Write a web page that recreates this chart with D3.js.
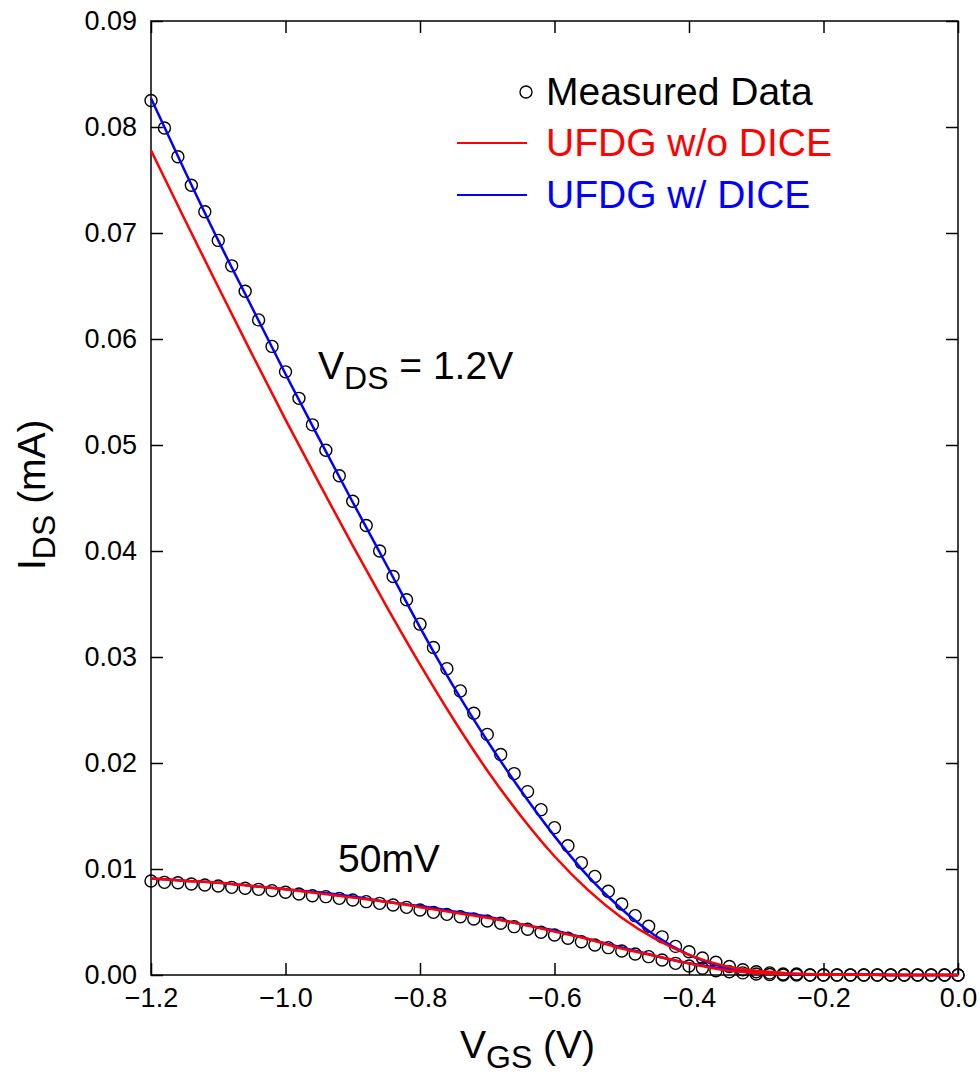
<!DOCTYPE html>
<html>
<head>
<meta charset="utf-8">
<script src="https://cdn.jsdelivr.net/npm/d3@7"></script>
<style>
  body { margin: 0; background: #fff; }
  svg text { font-family: "Liberation Sans", Arial, sans-serif; }
</style>
</head>
<body>
<div id="chart-container"></div>
<script>
// measured points, V_GS step 0.02 V
const vgsMeasured = [
  -1.20, -1.18, -1.16, -1.14, -1.12, -1.10, -1.08, -1.06, -1.04, -1.02,
  -1.00, -0.98, -0.96, -0.94, -0.92, -0.90, -0.88, -0.86, -0.84, -0.82,
  -0.80, -0.78, -0.76, -0.74, -0.72, -0.70, -0.68, -0.66, -0.64, -0.62,
  -0.60, -0.58, -0.56, -0.54, -0.52, -0.50, -0.48, -0.46, -0.44, -0.42,
  -0.40, -0.38, -0.36, -0.34, -0.32, -0.30, -0.28, -0.26, -0.24, -0.22,
  -0.20, -0.18, -0.16, -0.14, -0.12, -0.10, -0.08, -0.06, -0.04, -0.02, 0.00
]
const measured12V = [
  0.0825, 0.0799, 0.0772, 0.0745, 0.0720, 0.0693, 0.0669, 0.0645, 0.0618, 0.0593,
  0.0569, 0.0544, 0.0519, 0.0495, 0.0471, 0.0447, 0.0424, 0.0400, 0.0376, 0.0354,
  0.0331, 0.0309, 0.0289, 0.0268, 0.0247, 0.0227, 0.0208, 0.0190, 0.0173, 0.0156,
  0.0139, 0.0122, 0.0106, 0.0093, 0.0079, 0.0067, 0.0056, 0.0046, 0.0036, 0.0027,
  0.0022, 0.0016, 0.0012, 0.0008, 0.0005, 0.0003, 0.0002, 0.0001, 0.0001, 0.0000,
  0, 0, 0, 0, 0, 0, 0, 0, 0, 0, 0
]
const measured50mV = [
  0.00887, 0.00874, 0.00870, 0.00858, 0.00849, 0.00840, 0.00827, 0.00818, 0.00808, 0.00796,
  0.00780, 0.00764, 0.00748, 0.00739, 0.00723, 0.00708, 0.00692, 0.00676, 0.00660, 0.00638,
  0.00613, 0.00591, 0.00572, 0.00550, 0.00528, 0.00510, 0.00488, 0.00456, 0.00431, 0.00403,
  0.00377, 0.00346, 0.00314, 0.00283, 0.00258, 0.00226, 0.00198, 0.00173, 0.00142, 0.00110,
  0.00085, 0.00063, 0.00040, 0.00030, 0.00020, 0.00010, 0.00005, 0, 0, 0,
  0, 0, 0, 0, 0, 0, 0, 0, 0, 0, 0
]

// model curves, V_GS step 0.05 V
const vgsModel = [
  -1.20, -1.15, -1.10, -1.05, -1.00, -0.95, -0.90, -0.85, -0.80, -0.75,
  -0.70, -0.65, -0.60, -0.55, -0.50, -0.45, -0.40, -0.35, -0.30, -0.25,
  -0.20, -0.15, -0.10, -0.05, 0.00
]
const noDice12V = [
  0.0778, 0.0713, 0.0649, 0.0586, 0.0524, 0.0464, 0.0405, 0.0348, 0.0293, 0.0241,
  0.0193, 0.0150, 0.0112, 0.0080, 0.0054, 0.0034, 0.0019, 0.0009, 0.0004, 0.00015,
  0.00005, 0.00002, 0.00001, 0, 0
]
const withDice12V = [
  0.0827, 0.0759, 0.0693, 0.0630, 0.0567, 0.0506, 0.0446, 0.0387, 0.0328, 0.0272,
  0.0221, 0.0174, 0.0131, 0.0093, 0.0062, 0.0037, 0.0019, 0.0008, 0.0003, 0.0001,
  0.00005, 0.00002, 0.00001, 0, 0
]
const noDice50mV = [
  0.0091, 0.0089, 0.0087, 0.0084, 0.0081, 0.0077, 0.0073, 0.0069, 0.0064, 0.0059,
  0.0054, 0.0048, 0.0041, 0.0034, 0.0025, 0.0018, 0.0011, 0.0005, 0.0002, 0.0001,
  0.00005, 0.00002, 0.00001, 0, 0
]
const withDice50mV = [
  0.0091, 0.0089, 0.0087, 0.0084, 0.0081, 0.0078, 0.0074, 0.0069, 0.0065, 0.0060,
  0.0055, 0.0048, 0.0042, 0.0034, 0.0026, 0.0018, 0.0011, 0.0006, 0.0002, 0.0001,
  0.00005, 0.00002, 0.00001, 0, 0
]

const xTicks = [-1.2, -1.0, -0.8, -0.6, -0.4, -0.2, 0.0]
const yTicks = [0, 0.01, 0.02, 0.03, 0.04, 0.05, 0.06, 0.07, 0.08, 0.09]

const legendItems = [
  { label: 'Measured Data', color: '#000', kind: 'circle' },
  { label: 'UFDG w/o DICE', color: '#ff0000', kind: 'line' },
  { label: 'UFDG w/ DICE', color: '#0000ff', kind: 'line' },
]

// layout
const W = 980
const H = 1077
const plot = { left: 151, right: 958, top: 21, bottom: 975 }

const svg = d3
  .select('#chart-container')
  .append('svg')
  .attr('width', W)
  .attr('height', H)

const x = d3.scaleLinear().domain([-1.2, 0]).range([plot.left, plot.right])
const y = d3.scaleLinear().domain([0, 0.09]).range([plot.bottom, plot.top])

const tickLen = 12
const tickFont = 27

function styleAxis(g) {
  g.select('.domain').remove()
  g.selectAll('.tick line').attr('stroke', '#000').attr('stroke-width', 1.5)
  g.selectAll('.tick text')
    .attr('font-family', '"Liberation Sans", Arial, sans-serif')
    .attr('font-size', tickFont)
    .attr('fill', '#000')
}

// bottom axis with labels
svg
  .append('g')
  .attr('transform', `translate(0,${plot.bottom})`)
  .call(
    d3.axisBottom(x).tickValues(xTicks).tickSize(-tickLen).tickPadding(13)
      .tickFormat(d3.format('.1f'))
  )
  .call(styleAxis)

// left axis with labels
svg
  .append('g')
  .attr('transform', `translate(${plot.left},0)`)
  .call(
    d3.axisLeft(y).tickValues(yTicks).tickSize(-tickLen).tickPadding(14)
      .tickFormat(d3.format('.2f'))
  )
  .call(styleAxis)

// mirrored ticks on top and right
svg
  .append('g')
  .attr('transform', `translate(0,${plot.top})`)
  .call(d3.axisTop(x).tickValues(xTicks).tickSize(-tickLen).tickFormat(''))
  .call(styleAxis)

svg
  .append('g')
  .attr('transform', `translate(${plot.right},0)`)
  .call(d3.axisRight(y).tickValues(yTicks).tickSize(-tickLen).tickFormat(''))
  .call(styleAxis)

// frame
svg
  .append('rect')
  .attr('x', plot.left)
  .attr('y', plot.top)
  .attr('width', plot.right - plot.left)
  .attr('height', plot.bottom - plot.top)
  .attr('fill', 'none')
  .attr('stroke', '#000')
  .attr('stroke-width', 1.5)

// measured circles
const pts12 = vgsMeasured.map((v, i) => ({ v, i: measured12V[i] }))
const pts50 = vgsMeasured.map((v, i) => ({ v, i: measured50mV[i] }))

svg
  .append('g')
  .selectAll('circle')
  .data(pts12.concat(pts50))
  .enter()
  .append('circle')
  .attr('cx', (d) => x(d.v))
  .attr('cy', (d) => y(d.i))
  .attr('r', 6)
  .attr('fill', 'none')
  .attr('stroke', '#000')
  .attr('stroke-width', 1.4)

// model lines
const line = d3
  .line()
  .x((d) => x(d.v))
  .y((d) => y(d.i))
  .curve(d3.curveMonotoneX)

const curves = [
  { values: withDice50mV, color: '#0000ff' },
  { values: withDice12V, color: '#0000ff' },
  { values: noDice50mV, color: '#ff0000' },
  { values: noDice12V, color: '#ff0000' },
]

curves.forEach((c) => {
  svg
    .append('path')
    .datum(vgsModel.map((v, k) => ({ v, i: c.values[k] })))
    .attr('fill', 'none')
    .attr('stroke', c.color)
    .attr('stroke-width', 2.5)
    .attr('d', line)
})

// legend
const legendY = [92, 143, 195]
legendItems.forEach((it, k) => {
  const ly = legendY[k]
  if (it.kind === 'circle') {
    svg
      .append('circle')
      .attr('cx', 526)
      .attr('cy', ly)
      .attr('r', 6)
      .attr('fill', 'none')
      .attr('stroke', '#000')
      .attr('stroke-width', 1.4)
  } else {
    svg
      .append('line')
      .attr('x1', 457)
      .attr('x2', 527)
      .attr('y1', ly)
      .attr('y2', ly)
      .attr('stroke', it.color)
      .attr('stroke-width', 2)
  }
  svg
    .append('text')
    .attr('x', 546)
    .attr('y', ly + 13)
    .attr('font-size', 39)
    .attr('fill', it.color)
    .text(it.label)
})

// annotations
const vds = svg
  .append('text')
  .attr('x', 318)
  .attr('y', 379)
  .attr('font-size', 39)
  .attr('fill', '#000')
vds.append('tspan').text('V')
vds.append('tspan').attr('font-size', 32).attr('dy', 10).text('DS')
vds.append('tspan').attr('dy', -10).text(' = 1.2V')

svg
  .append('text')
  .attr('x', 338)
  .attr('y', 872)
  .attr('font-size', 39)
  .attr('fill', '#000')
  .text('50mV')

// axis titles
const xt = svg
  .append('text')
  .attr('x', 460)
  .attr('y', 1058)
  .attr('font-size', 39)
  .attr('fill', '#000')
xt.append('tspan').text('V')
xt.append('tspan').attr('font-size', 32).attr('dy', 10).text('GS')
xt.append('tspan').attr('dy', -10).text(' (V)')

const yt = svg
  .append('text')
  .attr('transform', 'translate(45,570) rotate(-90)')
  .attr('font-size', 39)
  .attr('fill', '#000')
yt.append('tspan').text('I')
yt.append('tspan').attr('font-size', 32).attr('dy', 10).text('DS')
yt.append('tspan').attr('dy', -10).text(' (mA)')
</script>
</body>
</html>
